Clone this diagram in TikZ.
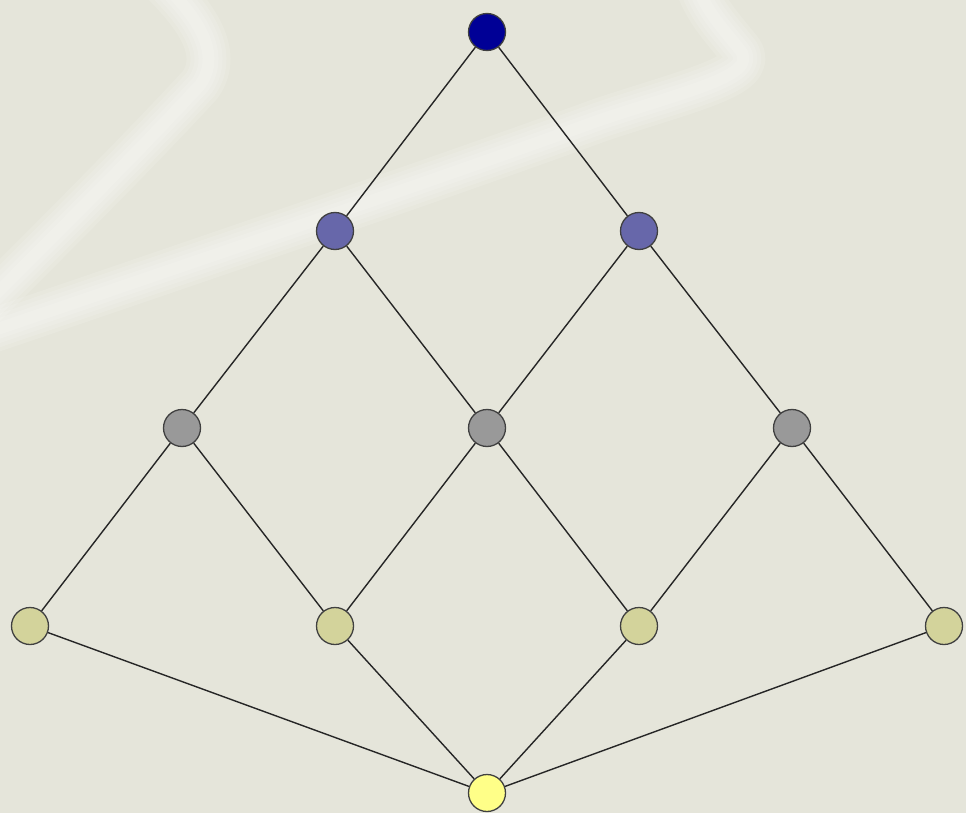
\documentclass[tikz,border=0pt]{standalone}
\usepackage{tikz}
\usepackage{xcolor}
\usetikzlibrary{positioning}
\definecolor{PaperBg}{HTML}{E5E5DA}
\definecolor{TopBlue}{HTML}{000096}
\definecolor{MidBlue}{HTML}{6767AA}
\definecolor{MidGray}{HTML}{999999}
\definecolor{LowOlive}{HTML}{D3D39B}
\definecolor{BotYellow}{HTML}{FFFF88}

\begin{document}
\begin{tikzpicture}[
    x=1pt,
    y=-1pt,
    vertex/.style={
        circle,
        draw=black!75,
        line width=1.3pt,
        minimum size=37pt,
        inner sep=0pt
    },
    link/.style={
        draw=black!85,
        line width=1.4pt
    },
    streak/.style={
        draw=white,
        line cap=round,
        line join=round
    }
]

% Background
\fill[PaperBg] (0,0) rectangle (966,813);
\useasboundingbox (0,0) rectangle (966,813);

% Faint streaks
\foreach \w in {44,36,28,20,12} {
    \draw[streak, line width=\w pt, opacity=0.12]
        (160,-20) .. controls (190,10) and (225,50) .. (200,85)
        .. controls (140,150) and (60,230) .. (-20,310);
    \draw[streak, line width=\w pt, opacity=0.12]
        (-20,335) .. controls (200,260) and (450,175) .. (600,120)
        .. controls (690,90) and (760,75) .. (740,50)
        .. controls (720,25) and (705,10) .. (695,-20);
}

% Vertices
\node[vertex, fill=TopBlue] (top) at (487,32) {};

\node[vertex, fill=MidBlue] (b1) at (335,231) {};
\node[vertex, fill=MidBlue] (b2) at (639,231) {};

\node[vertex, fill=MidGray] (c1) at (182,428) {};
\node[vertex, fill=MidGray] (c2) at (487,428) {};
\node[vertex, fill=MidGray] (c3) at (792,428) {};

\node[vertex, fill=LowOlive] (d1) at (30,626) {};
\node[vertex, fill=LowOlive] (d2) at (335,626) {};
\node[vertex, fill=LowOlive] (d3) at (639,626) {};
\node[vertex, fill=LowOlive] (d4) at (944,626) {};

\node[vertex, fill=BotYellow] (bot) at (487,793) {};

% Links
\draw[link] (top) -- (b1);
\draw[link] (top) -- (b2);

\draw[link] (b1) -- (c1);
\draw[link] (b1) -- (c2);
\draw[link] (b2) -- (c2);
\draw[link] (b2) -- (c3);

\draw[link] (c1) -- (d1);
\draw[link] (c1) -- (d2);
\draw[link] (c2) -- (d2);
\draw[link] (c2) -- (d3);
\draw[link] (c3) -- (d3);
\draw[link] (c3) -- (d4);

\draw[link] (d1) -- (bot);
\draw[link] (d2) -- (bot);
\draw[link] (d3) -- (bot);
\draw[link] (d4) -- (bot);

\end{tikzpicture}
\end{document}
